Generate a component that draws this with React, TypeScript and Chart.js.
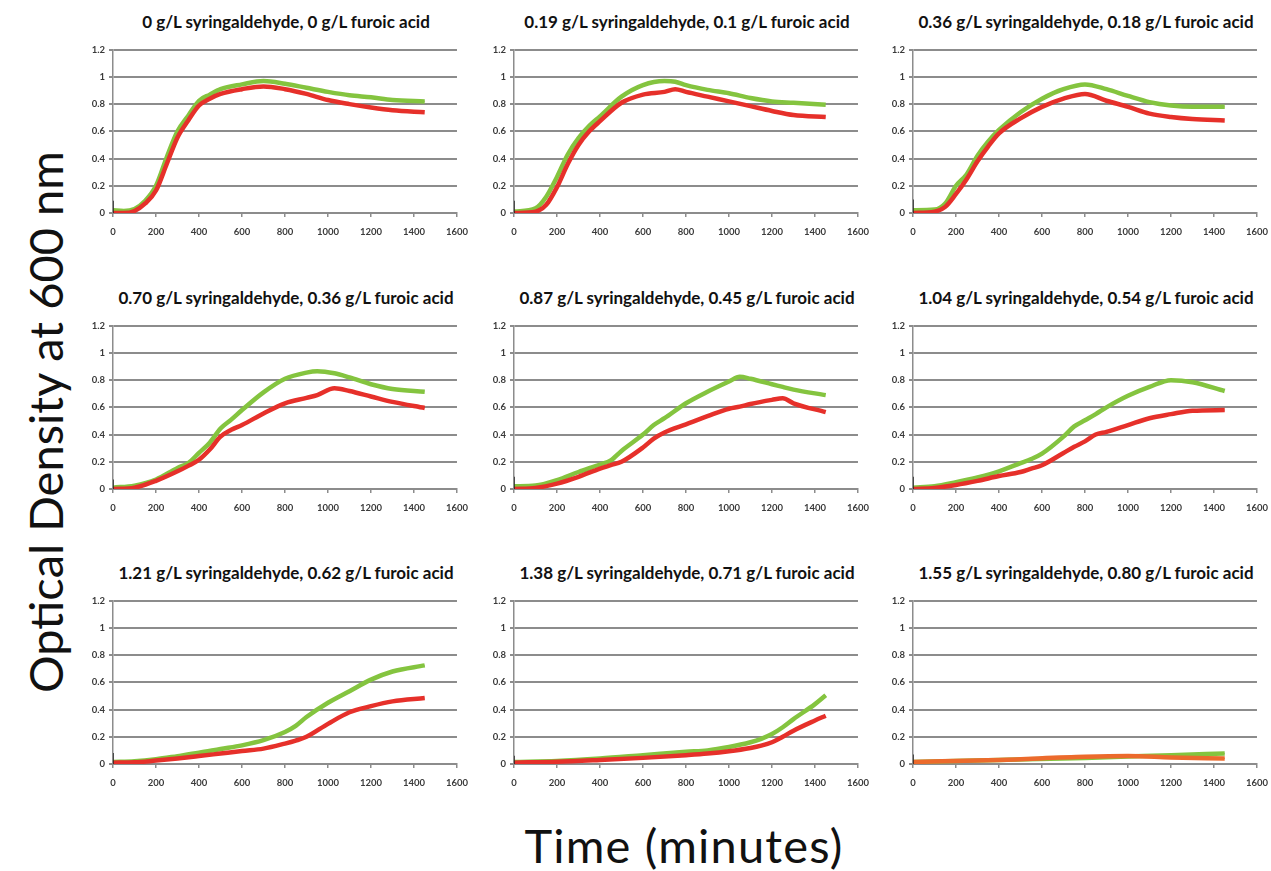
import React, { useEffect, useRef } from "react";
import { Chart, registerables } from "chart.js";

Chart.register(...registerables);

// ---------- data ----------
const panelTitles = [
  "0 g/L syringaldehyde, 0 g/L furoic acid",
  "0.19 g/L syringaldehyde, 0.1 g/L furoic acid",
  "0.36 g/L syringaldehyde, 0.18 g/L furoic acid",
  "0.70 g/L syringaldehyde, 0.36 g/L furoic acid",
  "0.87 g/L syringaldehyde, 0.45 g/L furoic acid",
  "1.04 g/L syringaldehyde, 0.54 g/L furoic acid",
  "1.21 g/L syringaldehyde, 0.62 g/L furoic acid",
  "1.38 g/L syringaldehyde, 0.71 g/L furoic acid",
  "1.55 g/L syringaldehyde, 0.80 g/L furoic acid",
];

const xTicks = [0, 200, 400, 600, 800, 1000, 1200, 1400, 1600];
const yTicks = [0, 0.2, 0.4, 0.6, 0.8, 1, 1.2];

const p1Time = [0, 50, 100, 150, 200, 250, 300, 350, 400, 450, 500, 600, 700, 800, 900, 1000, 1100, 1200, 1300, 1450];
const p1Green = [0.02, 0.015, 0.03, 0.09, 0.2, 0.41, 0.6, 0.715, 0.825, 0.87, 0.91, 0.945, 0.97, 0.95, 0.92, 0.89, 0.865, 0.85, 0.83, 0.82];
const p1Red = [0.0, 0.0, 0.015, 0.07, 0.165, 0.36, 0.555, 0.68, 0.79, 0.84, 0.875, 0.91, 0.93, 0.91, 0.875, 0.83, 0.8, 0.775, 0.755, 0.74];

const p2Time = [0, 100, 150, 200, 250, 300, 350, 400, 500, 600, 700, 750, 800, 900, 1000, 1100, 1200, 1300, 1450];
const p2Green = [0.01, 0.035, 0.12, 0.265, 0.43, 0.55, 0.64, 0.71, 0.855, 0.94, 0.97, 0.965, 0.94, 0.905, 0.88, 0.845, 0.82, 0.81, 0.795];
const p2Red = [0.0, 0.01, 0.06, 0.19, 0.36, 0.5, 0.6, 0.675, 0.81, 0.87, 0.89, 0.91, 0.89, 0.855, 0.82, 0.785, 0.75, 0.72, 0.705];

const p3Time = [0, 100, 150, 200, 250, 300, 350, 400, 500, 600, 700, 800, 900, 1000, 1100, 1200, 1300, 1450];
const p3Green = [0.02, 0.025, 0.07, 0.2, 0.285, 0.42, 0.525, 0.61, 0.74, 0.84, 0.91, 0.945, 0.91, 0.86, 0.815, 0.79, 0.78, 0.78];
const p3Red = [0.0, 0.01, 0.045, 0.14, 0.25, 0.38, 0.49, 0.585, 0.695, 0.78, 0.84, 0.875, 0.825, 0.78, 0.73, 0.705, 0.69, 0.68];

const p4Time = [0, 100, 200, 300, 350, 400, 450, 500, 550, 600, 700, 800, 900, 950, 1030, 1100, 1200, 1300, 1450];
const p4Green = [0.01, 0.025, 0.07, 0.155, 0.19, 0.265, 0.34, 0.445, 0.51, 0.58, 0.71, 0.81, 0.855, 0.865, 0.85, 0.82, 0.77, 0.735, 0.715];
const p4Red = [0.0, 0.01, 0.06, 0.13, 0.17, 0.215, 0.29, 0.385, 0.435, 0.47, 0.555, 0.63, 0.67, 0.69, 0.74, 0.72, 0.68, 0.64, 0.595];

const p5Time = [0, 100, 200, 300, 400, 450, 500, 600, 650, 700, 800, 900, 1000, 1050, 1100, 1200, 1250, 1300, 1450];
const p5Green = [0.02, 0.025, 0.065, 0.125, 0.18, 0.21, 0.28, 0.4, 0.47, 0.52, 0.63, 0.715, 0.79, 0.825, 0.81, 0.77, 0.75, 0.73, 0.69];
const p5Red = [0.0, 0.008, 0.04, 0.09, 0.15, 0.175, 0.2, 0.305, 0.37, 0.415, 0.475, 0.535, 0.59, 0.605, 0.625, 0.655, 0.667, 0.63, 0.565];

const p6Time = [0, 100, 200, 300, 400, 500, 550, 600, 700, 750, 800, 850, 900, 1000, 1100, 1200, 1300, 1450];
const p6Green = [0.01, 0.02, 0.05, 0.085, 0.13, 0.19, 0.22, 0.26, 0.385, 0.46, 0.505, 0.55, 0.6, 0.685, 0.75, 0.8, 0.785, 0.72];
const p6Red = [0.0, 0.008, 0.03, 0.06, 0.095, 0.125, 0.15, 0.175, 0.265, 0.31, 0.35, 0.4, 0.42, 0.47, 0.52, 0.55, 0.575, 0.58];

const p7Time = [0, 100, 200, 300, 400, 500, 600, 700, 800, 850, 900, 1000, 1100, 1200, 1300, 1450];
const p7Green = [0.015, 0.02, 0.035, 0.058, 0.082, 0.11, 0.137, 0.175, 0.235, 0.28, 0.345, 0.45, 0.535, 0.62, 0.68, 0.725];
const p7Red = [0.01, 0.012, 0.025, 0.04, 0.058, 0.077, 0.096, 0.113, 0.15, 0.172, 0.2, 0.295, 0.38, 0.425, 0.46, 0.485];

const p8Time = [0, 200, 400, 600, 800, 900, 1000, 1100, 1150, 1200, 1250, 1300, 1400, 1450];
const p8Green = [0.015, 0.022, 0.04, 0.065, 0.09, 0.1, 0.125, 0.16, 0.185, 0.22, 0.27, 0.33, 0.44, 0.505];
const p8Red = [0.01, 0.017, 0.03, 0.045, 0.065, 0.077, 0.094, 0.118, 0.135, 0.16, 0.2, 0.245, 0.32, 0.355];

const p9Time = [0, 400, 800, 1000, 1200, 1450];
const p9Green = [0.015, 0.03, 0.045, 0.055, 0.065, 0.077];
const p9Red = [0.015, 0.03, 0.053, 0.058, 0.048, 0.04];

const startErrorTop = [0.09, 0.09, 0.1, 0.07, 0.09, 0.09, 0.08, 0.06, 0.07];

// ---------- layout ----------
const COL_LEFT = [113, 514, 913];
const ROW_TOP = [48, 324, 599];
const AREA_W = 346;
const AREA_H = 165;
const Y_AXIS_W = 30;
const X_AXIS_H = 26;
const PAD_TOP = 8;
const PAD_RIGHT = 18;

const GREEN = "#84c43f";
const RED = "#e6302a";
const GRID = "#8c8c8c";
const FONT = "Lato, 'Open Sans', sans-serif";

const times = [p1Time, p2Time, p3Time, p4Time, p5Time, p6Time, p7Time, p8Time, p9Time];
const greens = [p1Green, p2Green, p3Green, p4Green, p5Green, p6Green, p7Green, p8Green, p9Green];
const reds = [p1Red, p2Red, p3Red, p4Red, p5Red, p6Red, p7Red, p8Red, p9Red];

function pts(t: number[], v: number[]) {
  return t.map((x, i) => ({ x, y: v[i] }));
}

function Panel({ idx }: { idx: number }) {
  const ref = useRef<HTMLCanvasElement | null>(null);
  const col = idx % 3;
  const row = Math.floor(idx / 3);
  const left = COL_LEFT[col] - Y_AXIS_W;
  const top = ROW_TOP[row] - PAD_TOP;
  const w = Y_AXIS_W + AREA_W + PAD_RIGHT;
  const h = PAD_TOP + AREA_H + X_AXIS_H;

  useEffect(() => {
    if (!ref.current) return;
    const t = times[idx];
    const g = greens[idx];
    const r = reds[idx];
    const redColor = idx === 8 ? "#ec6a2c" : RED;
    const chart = new Chart(ref.current, {
      type: "line",
      data: {
        datasets: [
          {
            data: [{ x: 0, y: 0 }, { x: 0, y: startErrorTop[idx] }],
            borderColor: "#222",
            borderWidth: 1.5,
            pointRadius: 0,
          },
          {
            data: pts(t, r),
            borderColor: redColor,
            borderWidth: 4.5,
            pointRadius: 0,
            cubicInterpolationMode: "monotone",
          },
          {
            data: pts(t, g),
            borderColor: GREEN,
            borderWidth: 4.5,
            pointRadius: 0,
            cubicInterpolationMode: "monotone",
          },
          {
            data: pts(t, r),
            borderColor: "rgba(0,0,0,0.5)",
            borderWidth: 0.9,
            borderDash: [2, 3],
            pointRadius: 0,
            cubicInterpolationMode: "monotone",
          },
          {
            data: pts(t, g),
            borderColor: "rgba(0,0,0,0.45)",
            borderWidth: 0.9,
            borderDash: [2, 3],
            pointRadius: 0,
            cubicInterpolationMode: "monotone",
          },
        ],
      },
      options: {
        animation: false,
        responsive: false,
        maintainAspectRatio: false,
        events: [],
        layout: { padding: { top: PAD_TOP, right: PAD_RIGHT, left: 0, bottom: 0 } },
        plugins: { legend: { display: false }, tooltip: { enabled: false }, title: { display: false } },
        scales: {
          x: {
            type: "linear",
            min: xTicks[0],
            max: xTicks[xTicks.length - 1],
            afterFit: (s: any) => {
              s.height = X_AXIS_H;
            },
            afterBuildTicks: (s: any) => {
              s.ticks = xTicks.map((v) => ({ value: v }));
            },
            ticks: {
              callback: (v: any) => String(v),
              font: { family: FONT, size: 9.5, weight: "bold" },
              color: "#3a3a3a",
              padding: 9,
              maxRotation: 0,
              autoSkip: false,
            },
            grid: {
              drawOnChartArea: false,
              drawTicks: true,
              tickLength: 4,
              color: GRID,
              lineWidth: 1.5,
            },
            border: { display: true, color: GRID, width: 2 },
          },
          y: {
            type: "linear",
            min: yTicks[0],
            max: yTicks[yTicks.length - 1],
            afterFit: (s: any) => {
              s.width = Y_AXIS_W;
            },
            afterBuildTicks: (s: any) => {
              s.ticks = yTicks.map((v) => ({ value: v }));
            },
            ticks: {
              callback: (v: any) => String(Math.round(Number(v) * 10) / 10),
              font: { family: FONT, size: 9.5, weight: "bold" },
              color: "#3a3a3a",
              padding: 4,
            },
            grid: {
              drawOnChartArea: true,
              drawTicks: true,
              tickLength: 4,
              color: GRID,
              lineWidth: 2,
            },
            border: { display: true, color: GRID, width: 1.5 },
          },
        },
      },
    } as any);
    return () => chart.destroy();
  }, [idx]);

  return (
    <>
      <div
        style={{
          position: "absolute",
          left: COL_LEFT[col] - 40,
          width: AREA_W + 80,
          top: ROW_TOP[row] - 37,
          height: 22,
          lineHeight: "22px",
          textAlign: "center",
          fontFamily: FONT,
          fontWeight: 700,
          fontSize: 17,
          color: "#111",
          whiteSpace: "nowrap",
        }}
      >
        {panelTitles[idx]}
      </div>
      <canvas
        ref={ref}
        width={w}
        height={h}
        style={{ position: "absolute", left, top, width: w, height: h }}
      />
    </>
  );
}

export default function App() {
  return (
    <div
      style={{
        position: "absolute",
        left: 0,
        top: 0,
        width: 1271,
        height: 871,
        background: "#fff",
        overflow: "hidden",
      }}
    >
      {panelTitles.map((_, i) => (
        <Panel key={i} idx={i} />
      ))}
      <div
        style={{
          position: "absolute",
          left: 45 - 300,
          top: 422 - 30,
          width: 600,
          height: 60,
          lineHeight: "60px",
          textAlign: "center",
          transform: "rotate(-90deg)",
          fontFamily: FONT,
          fontSize: 47,
          color: "#111",
          whiteSpace: "nowrap",
        }}
      >
        Optical Density at 600 nm
      </div>
      <div
        style={{
          position: "absolute",
          left: 684 - 300,
          top: 815,
          width: 600,
          height: 60,
          lineHeight: "60px",
          textAlign: "center",
          fontFamily: FONT,
          fontSize: 47,
          letterSpacing: 1.2,
          color: "#111",
          whiteSpace: "nowrap",
        }}
      >
        Time (minutes)
      </div>
    </div>
  );
}
